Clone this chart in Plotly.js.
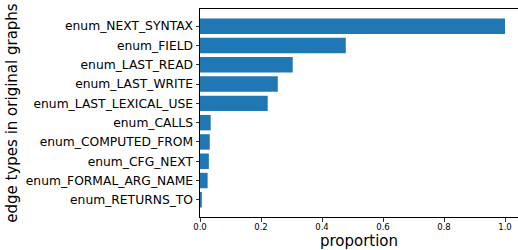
<!DOCTYPE html>
<html><head><meta charset="utf-8">
<script src="https://cdn.plot.ly/plotly-3.0.1.min.js"></script>
<style>html,body{margin:0;padding:0;overflow:hidden;background:#fff}</style>
</head><body>
<div id="chart" style="width:518px;height:250px"></div>
<script>
const categories = ["enum_NEXT_SYNTAX","enum_FIELD","enum_LAST_READ","enum_LAST_WRITE","enum_LAST_LEXICAL_USE","enum_CALLS","enum_COMPUTED_FROM","enum_CFG_NEXT","enum_FORMAL_ARG_NAME","enum_RETURNS_TO"];
const proportions = [1.0, 0.478, 0.304, 0.255, 0.222, 0.035, 0.032, 0.029, 0.025, 0.006];
const xTickVals = [0, 0.2, 0.4, 0.6, 0.8, 1.0];
const xTickText = ["0.0","0.2","0.4","0.6","0.8","1.0"];

const font = "DejaVu Sans, sans-serif";
Plotly.newPlot("chart", [{
  type: "bar", orientation: "h",
  x: proportions, y: categories,
  marker: {color: "#1f77b4"},
  width: 0.8, hoverinfo: "none"
}], {
  width: 518, height: 250,
  margin: {l: 200, r: 0, t: 9, b: 33, pad: 0},
  paper_bgcolor: "#fff", plot_bgcolor: "#fff",
  showlegend: false,
  font: {family: font, color: "#000"},
  xaxis: {
    range: [0, 1.0426], tickvals: xTickVals, ticktext: xTickText,
    showgrid: false, zeroline: false,
    showline: true, linecolor: "#000", linewidth: 1, mirror: true,
    ticks: "outside", ticklen: 3.5, tickcolor: "#000", tickwidth: 0.8,
    ticklabelstandoff: -2,
    tickfont: {size: 8.5, family: font, color: "#000"},
    title: {text: "proportion", font: {size: 15, family: font, color: "#000"}, standoff: 10},
    automargin: false
  },
  yaxis: {
    autorange: false, range: [9.89, -0.89],
    type: "category",
    showgrid: false, zeroline: false,
    showline: true, linecolor: "#000", linewidth: 1, mirror: false,
    ticks: "outside", ticklen: 3.5, tickcolor: "#000", tickwidth: 0.8,
    tickfont: {size: 12.3, family: font, color: "#000"},
    title: {text: "edge types in original graphs", font: {size: 15, family: font, color: "#000"}, standoff: 4},
    automargin: false
  }
}, {displayModeBar: false, staticPlot: true});
</script>
</body></html>
